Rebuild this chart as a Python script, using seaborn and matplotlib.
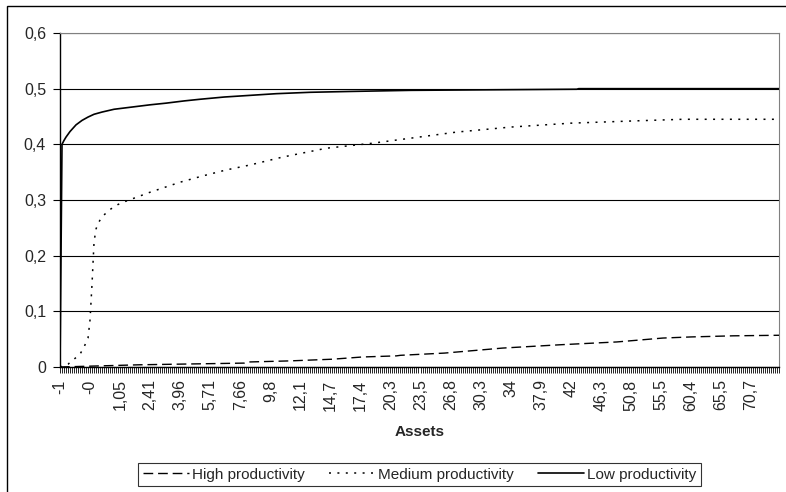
import matplotlib
matplotlib.use("Agg")
import matplotlib.pyplot as plt
from matplotlib.lines import Line2D
from matplotlib.patches import Rectangle
from matplotlib.ticker import MultipleLocator
import seaborn as sns
import pandas as pd

# asset grid: 360 categories, a label every 15th one
n_categories = 360
label_step = 15
asset_labels = ["-1", "-0", "1,05", "2,41", "3,96", "5,71", "7,66", "9,8", "12,1", "14,7",
                "17,4", "20,3", "23,5", "26,8", "30,3", "34", "37,9", "42", "46,3", "50,8",
                "55,5", "60,4", "65,5", "70,7"]

y_ticks = [0, 0.1, 0.2, 0.3, 0.4, 0.5, 0.6]
y_labels = ["0", "0,1", "0,2", "0,3", "0,4", "0,5", "0,6"]

# values at a few grid points (category index -> share)
high_idx = [0, 20, 40, 92, 94, 115, 136, 151, 168, 170, 192, 221, 250, 278, 301, 315, 336, 359]
high_val = [0.0, 0.002, 0.004, 0.007, 0.009, 0.011, 0.014, 0.018, 0.020, 0.021, 0.025, 0.034,
            0.040, 0.045, 0.052, 0.054, 0.056, 0.057]

medium_idx = [0, 4, 10, 12, 14, 15, 16, 17, 18, 19, 21, 25, 29, 33, 45, 60, 71, 83, 95, 111,
              133, 156, 175, 198, 225, 255, 286, 311, 359]
medium_val = [0.0, 0.005, 0.023, 0.036, 0.052, 0.085, 0.15, 0.225, 0.248, 0.258, 0.27, 0.283,
              0.292, 0.298, 0.314, 0.332, 0.343, 0.354, 0.363, 0.377, 0.393, 0.402, 0.411,
              0.422, 0.431, 0.438, 0.442, 0.445, 0.445]

low_idx = [0, 1, 2, 3, 5, 8, 11, 14, 17, 21, 27, 36, 45, 53, 62, 70, 82, 95, 108, 125, 145,
           175, 258, 259, 359]
low_val = [0.0, 0.40, 0.407, 0.413, 0.423, 0.435, 0.443, 0.449, 0.454, 0.458, 0.463, 0.467,
           0.471, 0.474, 0.478, 0.481, 0.485, 0.488, 0.491, 0.4935, 0.495, 0.497, 0.499,
           0.5, 0.5]

series_names = ["High productivity", "Medium productivity", "Low productivity"]

df = pd.concat([
    pd.DataFrame({"idx": high_idx, "value": high_val, "series": series_names[0]}),
    pd.DataFrame({"idx": medium_idx, "value": medium_val, "series": series_names[1]}),
    pd.DataFrame({"idx": low_idx, "value": low_val, "series": series_names[2]}),
])

sns.set_theme(style="white")
plt.rcParams["font.family"] = ["Liberation Sans", "DejaVu Sans"]

fig = plt.figure(figsize=(7.86, 4.92), dpi=100)
W, H = 786, 492
ax = fig.add_axes([60 / W, 1 - 367 / H, (779 - 60) / W, (367 - 33) / H])

dash_styles = {
    series_names[0]: (7, 3.5),
    series_names[1]: (1.3, 4.2),
    series_names[2]: "",
}
widths = {series_names[0]: 1.0, series_names[1]: 1.1, series_names[2]: 1.2}

sns.lineplot(data=df, x="idx", y="value", hue="series", style="series",
             palette=["black"] * 3, dashes=dash_styles, estimator=None,
             legend=False, ax=ax, zorder=3)
for line, name in zip(ax.get_lines(), series_names):
    line.set_linewidth(widths[name])

ax.set_xlim(0, n_categories - 1)
ax.set_ylim(0, 0.6)
ax.set_yticks(y_ticks)
ax.set_yticklabels(y_labels, fontsize=11.5)
ax.yaxis.grid(True, color="black", linewidth=0.8)
ax.set_axisbelow(True)

ax.set_xticks(range(0, len(asset_labels) * label_step, label_step))
ax.set_xticklabels(asset_labels, rotation=90, fontsize=11.5)
ax.xaxis.set_minor_locator(MultipleLocator(1))
ax.tick_params(axis="x", which="both", direction="out", length=4, width=0.6,
               color="black", bottom=True, pad=5)
ax.tick_params(axis="y", direction="out", length=5, width=0.8, color="black", left=True, pad=5)

ax.set_xlabel("Assets", fontsize=11, fontweight="bold", labelpad=10)
ax.set_ylabel("")
for side in ["left", "bottom"]:
    ax.spines[side].set_color("black")
    ax.spines[side].set_linewidth(1.0)
for side in ["top", "right"]:
    ax.spines[side].set_color("#808080")
    ax.spines[side].set_linewidth(0.8)

handles = [Line2D([], [], color="black", linewidth=widths[n],
                  linestyle=(0, dash_styles[n]) if dash_styles[n] else "-")
           for n in series_names]
leg = fig.legend(handles, series_names, loc="center", ncol=3,
                 bbox_to_anchor=(419.5 / W, 1 - 474.5 / H), fontsize=11,
                 frameon=True, fancybox=False, handlelength=3.0, handletextpad=0.2,
                 columnspacing=1.6, borderpad=0.3)
leg.get_frame().set_edgecolor("black")
leg.get_frame().set_linewidth(0.8)

# outer chart-area border (only left/top inside the crop)
fig.patches.append(Rectangle((7 / W, -0.1), 1.2, 1 - 6 / H + 0.1, transform=fig.transFigure,
                             fill=False, edgecolor="black", linewidth=1.0))

fig.savefig("out.png", dpi=100)
